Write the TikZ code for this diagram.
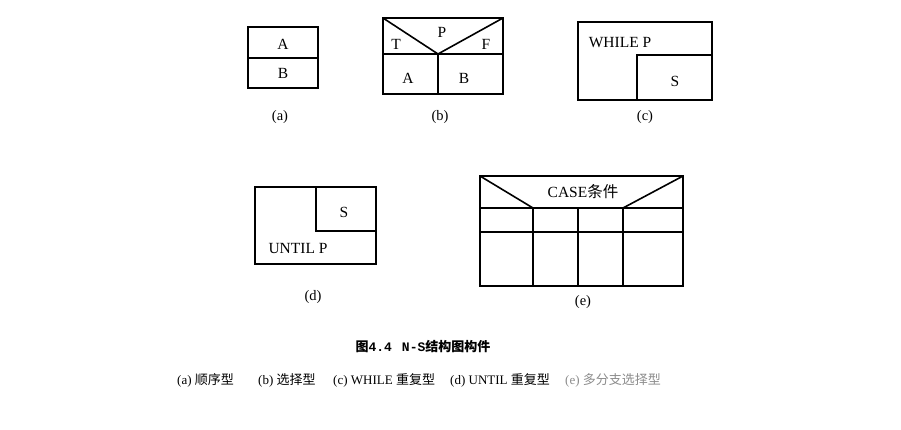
\documentclass[tikz,border=0pt]{standalone}
\usepackage{fontspec}
\setmainfont{Liberation Serif}
\setmonofont{Liberation Mono}
\newfontfamily\cjk{Noto Sans CJK SC}
\usetikzlibrary{calc}

\tikzset{
  box/.style={line width=1.6pt},
  lbl/.style={font=\fontsize{15.5}{17}\selectfont, inner sep=0pt},
  sub/.style={font=\fontsize{14.5}{16}\selectfont, inner sep=0pt},
  captxt/.style={font=\fontsize{13}{15}\selectfont, inner sep=0pt, anchor=west},
}

\begin{document}
\begin{tikzpicture}[x=1pt,y=-1pt]
	\useasboundingbox[fill=white] (0,0) rectangle (901,429);
	% (a)
	\draw[box] (248,27) rectangle (318,88);
	\draw[box] (248,58)--(318,58);
	\node[lbl] (aA) at (283,44) {A};
	\node[lbl] (aB) at (283,73) {B};
	\node[sub] (la) at (280,117) {(a)};
	% (b)
	\draw[box] (383,18) rectangle (503,94);
	\draw[box] (383,54)--(503,54);
	\draw[box] (383,18)--(438,54)--(503,18);
	\draw[box] (438,54)--(438,94);
	\node[lbl] (bP) at (442,32) {P};
	\node[lbl] (bT) at (396,44) {T};
	\node[lbl] (bF) at (486,44) {F};
	\node[lbl] (bA) at (408,78) {A};
	\node[lbl] (bB) at (464,78) {B};
	\node[sub] (lb) at (440,117) {(b)};
	% (c)
	\draw[box] (578,22) rectangle (712,100);
	\draw[box] (712,55)--(637,55)--(637,100);
	\node[lbl] (cW) at (620,43) {WHILE P};
	\node[lbl] (cS) at (675,81) {S};
	\node[sub] (lc) at (645,117) {(c)};
	% (d)
	\draw[box] (255,187) rectangle (376,264);
	\draw[box] (316,187)--(316,231)--(376,231);
	\node[lbl] (dS) at (344,212) {S};
	\node[lbl] (dU) at (298,248) {UNTIL P};
	\node[sub] (ld) at (313,297) {(d)};
	% (e)
	\draw[box] (480,176) rectangle (683,286);
	\draw[box] (480,176)--(533,208);
	\draw[box] (683,176)--(623,208);
	\draw[box] (480,208)--(683,208);
	\draw[box] (480,232)--(683,232);
	\foreach \x in {533,578,623}
		\draw[box] (\x,208)--(\x,286);
	\node[lbl] (eC) at (583,192) {CASE{\cjk 条件}};
	\node[sub] (le) at (583,302) {(e)};
	% caption
	\node[inner sep=0pt, font=\fontsize{13}{15}\selectfont\bfseries] (title) at (423,347)
		{{\cjk 图}\texttt{4.4}\hspace{10pt}\texttt{N-S}{\cjk 结构图构件}};
	\node[captxt] (ca) at (177,380) {(a) {\cjk 顺序型}};
	\node[captxt] (cb) at (258,380) {(b) {\cjk 选择型}};
	\node[captxt] (cc) at (333,380) {(c) WHILE {\cjk 重复型}};
	\node[captxt] (cd) at (450,380) {(d) UNTIL {\cjk 重复型}};
	\node[captxt, text=black!45] (ce) at (565,380) {(e) {\cjk 多分支选择型}};
\end{tikzpicture}
\end{document}
